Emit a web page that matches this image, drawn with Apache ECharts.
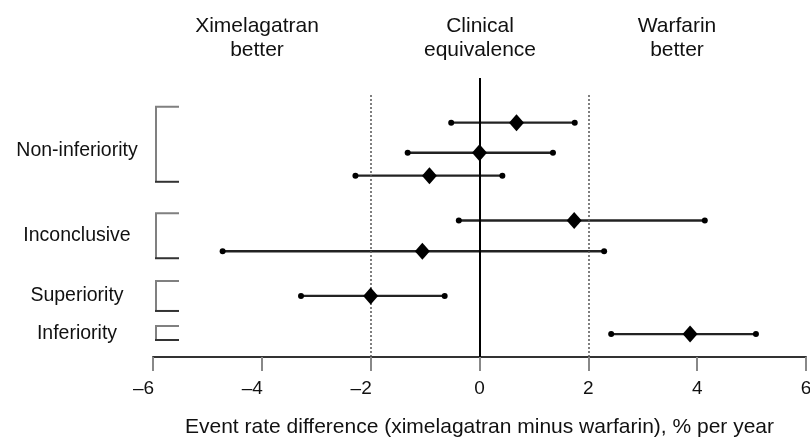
<!DOCTYPE html>
<html>
<head>
<meta charset="utf-8">
<script src="https://cdn.jsdelivr.net/npm/echarts@6/dist/echarts.min.js"></script>
<style>
  html, body { margin: 0; padding: 0; background: #fff; }
  #chart { width: 810px; height: 438px; }
</style>
</head>
<body>
<div id="chart"></div>
<script>
// Event-rate differences (ximelagatran minus warfarin), % per year, with 95% CIs
const rowPos   = [84.0, 73.2, 65.0, 48.9, 37.9, 21.9, 8.2];
const pointEst = [0.68, 0.0, -0.92, 1.74, -1.05, -2.0, 3.87];
const ciLow    = [-0.52, -1.32, -2.28, -0.38, -4.72, -3.28, 2.42];
const ciHigh   = [1.75, 1.35, 0.42, 4.14, 2.29, -0.64, 5.08];
const rowGroup = [0, 0, 0, 1, 1, 2, 3];

// Conclusion groups bracketing the rows
const groupNames  = ['Non-inferiority', 'Inconclusive', 'Superiority', 'Inferiority'];
const groupTop    = [89.7, 51.5, 27.2, 11.1];
const groupBottom = [62.8, 35.4, 16.5, 6.1];

// Axis and equivalence margin
const xTicks = [-6, -4, -2, 0, 2, 4, 6];
const margin = 2;
const headers = ['Ximelagatran\nbetter', 'Clinical\nequivalence', 'Warfarin\nbetter'];
const headerX = [257, 480, 677];

const FONT = '"Liberation Sans", Arial, Helvetica, sans-serif';

const chart = echarts.init(document.getElementById('chart'), null, { renderer: 'canvas' });

const ciData = pointEst.map((_, i) => [ciLow[i], ciHigh[i], rowPos[i]]);
const ptData = pointEst.map((v, i) => [v, rowPos[i]]);
const grpData = groupNames.map((n, i) => {
  const ys = rowPos.filter((_, r) => rowGroup[r] === i);
  const mid = ys.reduce((s, y) => s + y, 0) / ys.length;
  return [groupTop[i], groupBottom[i], i, mid];
});

const option = {
  animation: false,
  backgroundColor: '#fff',
  grid: { left: 153, right: 4, top: 78, bottom: 81, containLabel: false, outerBoundsMode: 'none' },
  xAxis: {
    type: 'value',
    min: xTicks[0],
    max: xTicks[xTicks.length - 1],
    interval: 2,
    splitLine: { show: false },
    axisLine: { show: true, onZero: false, lineStyle: { color: '#333', width: 2 } },
    axisTick: { show: true, length: 14, lineStyle: { color: '#888', width: 2 } },
    axisLabel: {
      margin: 22,
      fontSize: 19,
      fontFamily: FONT,
      color: '#111',
      formatter: v => v < 0 ? '{neg|\u2013' + Math.abs(v) + '}' : '{pos|' + v + '}',
      rich: {
        neg: { fontSize: 19, fontFamily: FONT, color: '#111', padding: [0, 19, 0, 0] },
        pos: { fontSize: 19, fontFamily: FONT, color: '#111' }
      }
    },
    name: 'Event rate difference (ximelagatran minus warfarin), % per year',
    nameLocation: 'middle',
    nameGap: 60,
    nameTextStyle: { fontSize: 21, fontFamily: FONT, color: '#111' }
  },
  yAxis: { type: 'value', min: 0, max: 100, show: false },
  graphic: headers.map((t, i) => ({
    type: 'text',
    x: headerX[i],
    y: 14,
    style: {
      text: t, fontSize: 21, fontFamily: FONT, fill: '#111',
      textAlign: 'center', textVerticalAlign: 'top', lineHeight: 24
    }
  })),
  series: [
    {
      // reference lines: no difference and equivalence margins
      type: 'line',
      data: [],
      silent: true,
      markLine: {
        symbol: ['none', 'none'],
        label: { show: false },
        silent: true,
        data: [
          [{ coord: [0, 0], lineStyle: { color: '#000', width: 2, type: 'solid' } }, { coord: [0, 100] }],
          [{ coord: [-margin, 0], lineStyle: { color: '#555', width: 1.5, type: [2, 2] } }, { coord: [-margin, 94.6] }],
          [{ coord: [margin, 0], lineStyle: { color: '#555', width: 1.5, type: [2, 2] } }, { coord: [margin, 94.6] }]
        ]
      }
    },
    {
      // group brackets with their labels
      type: 'custom',
      clip: false,
      silent: true,
      data: grpData,
      renderItem: (params, api) => {
        const top = api.coord([xTicks[0], api.value(0)]);
        const bot = api.coord([xTicks[0], api.value(1)]);
        const mid = api.coord([xTicks[0], api.value(3)]);
        const x0 = top[0] + 3;
        const arm = 23;
        return {
          type: 'group',
          children: [
            { type: 'polyline', shape: { points: [[x0 + arm, top[1]], [x0, top[1]], [x0, bot[1]]] },
              style: { stroke: '#808080', lineWidth: 2, fill: null } },
            { type: 'line', shape: { x1: x0 - 1, y1: bot[1], x2: x0 + arm, y2: bot[1] },
              style: { stroke: '#333', lineWidth: 2 } },
            { type: 'text', x: x0 - 79, y: mid[1],
              style: { text: groupNames[api.value(2)], fontSize: 19.5, fontFamily: FONT, fill: '#111',
                       textAlign: 'center', textVerticalAlign: 'middle' } }
          ]
        };
      }
    },
    {
      // confidence intervals with end dots
      type: 'custom',
      silent: true,
      data: ciData,
      renderItem: (params, api) => {
        const a = api.coord([api.value(0), api.value(2)]);
        const b = api.coord([api.value(1), api.value(2)]);
        return {
          type: 'group',
          children: [
            { type: 'line', shape: { x1: a[0], y1: a[1], x2: b[0], y2: b[1] },
              style: { stroke: '#222', lineWidth: 2.4 } },
            { type: 'circle', shape: { cx: a[0], cy: a[1], r: 3 }, style: { fill: '#000' } },
            { type: 'circle', shape: { cx: b[0], cy: b[1], r: 3 }, style: { fill: '#000' } }
          ]
        };
      }
    },
    {
      // point estimates
      type: 'scatter',
      data: ptData,
      symbol: 'diamond',
      symbolSize: [15, 17],
      itemStyle: { color: '#000', opacity: 1 },
      silent: true,
      z: 5
    }
  ]
};

chart.setOption(option);
</script>
</body>
</html>
